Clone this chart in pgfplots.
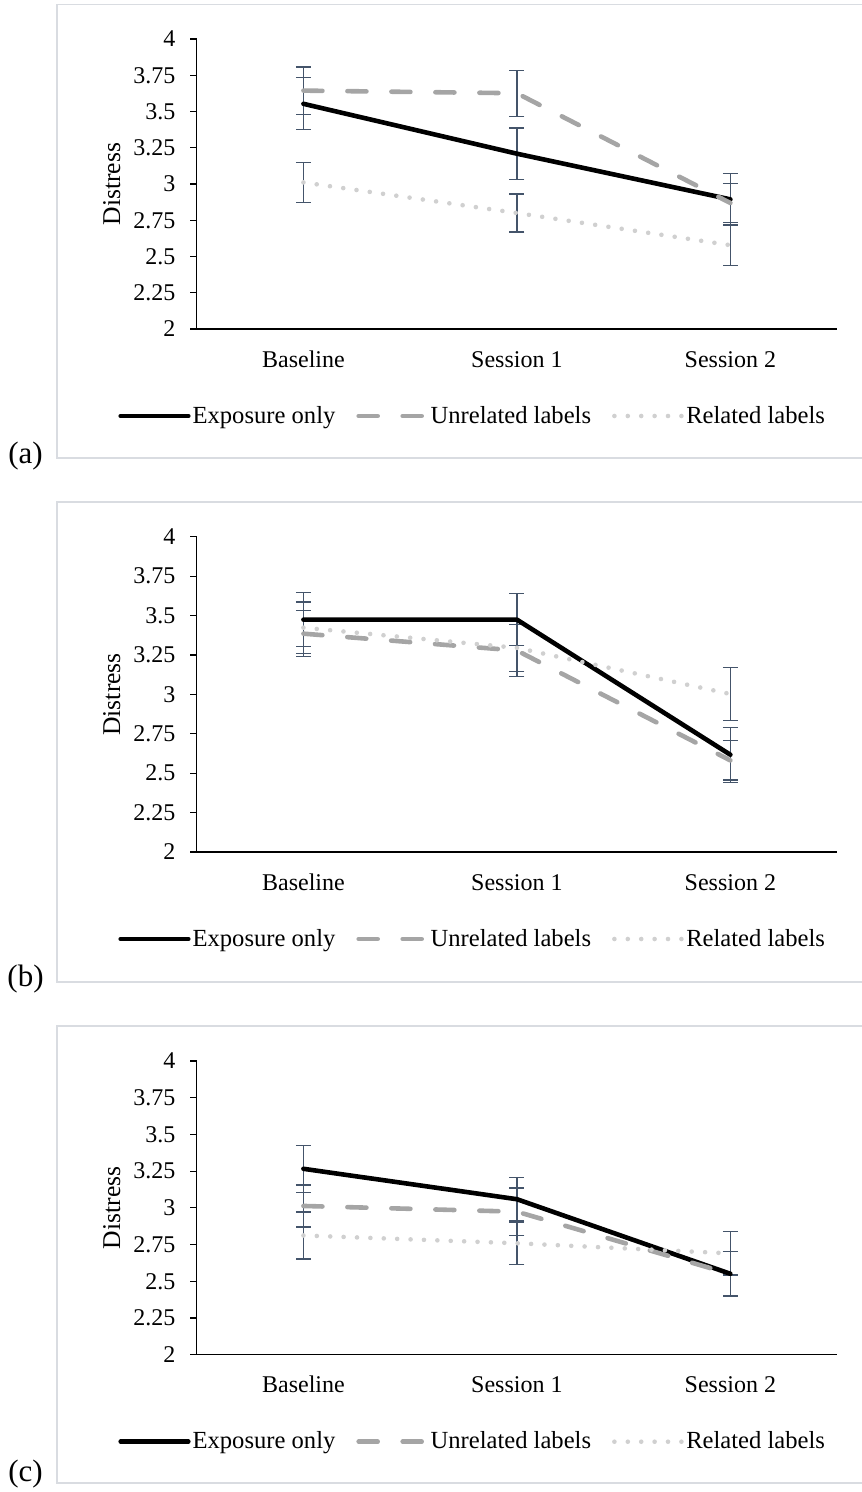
\documentclass[border=0pt]{standalone}
\usepackage{fontspec}
\setmainfont{Liberation Serif}
\usepackage{pgfplots}
\usepackage{pgfplotstable}
\pgfplotsset{compat=1.18}
\definecolor{errc}{HTML}{44546A}
\definecolor{unrc}{HTML}{A5A5A5}
\definecolor{relc}{HTML}{D0D0D0}
\definecolor{boxc}{HTML}{D9DCE1}

\pgfplotstableread{
x expo expoE unrel unrelE rel relE
0 3.553 0.179 3.644 0.163 3.011 0.140
1 3.209 0.177 3.626 0.158 2.800 0.131
2 2.894 0.176 2.869 0.135 2.578 0.138
}\dataA
\pgfplotstableread{
x expo expoE unrel unrelE rel relE
0 3.474 0.170 3.385 0.147 3.423 0.163
1 3.474 0.164 3.278 0.166 3.295 0.150
2 2.617 0.174 2.581 0.124 3.002 0.166
}\dataB
\pgfplotstableread{
x expo expoE unrel unrelE rel relE
0 3.266 0.160 3.013 0.143 2.812 0.160
1 3.059 0.148 2.974 0.161 2.759 0.143
2 2.551 0.151 2.550 0.155 2.690 0.147
}\dataC

\pgfplotsset{
  panel/.style={
    scale only axis, width=320.2pt,
    xmin=-0.5, xmax=2.5, ymin=2, ymax=4,
    axis x line=bottom, axis y line=left,
    axis line style={-, black, line width=0.6pt},
    xtick={0,1,2}, xticklabels={Baseline, Session 1, Session 2},
    major x tick style={draw=none},
    ytick={2,2.25,2.5,2.75,3,3.25,3.5,3.75,4},
    tick align=outside, major tick length=3.3pt,
    major y tick style={black, line width=0.6pt},
    /pgf/number format/assume math mode=true,
    yticklabel style={anchor=east, inner sep=0pt, xshift=-7.2pt},
    xticklabel style={anchor=base, inner sep=0pt, yshift=-15.7pt},
    ylabel={Distress},
    ylabel style={at={(axis description cs:-0.1327,0.5)}, anchor=center, font=\fontsize{12.8}{14}\selectfont},
    legend columns=3,
    legend style={draw=none, fill=none, at={(axis description cs:-0.1229,0)}, anchor=west, yshift=-43.5pt,
      inner sep=0pt, legend cell align=left, font=\fontsize{12.3}{14}\selectfont,
      /tikz/every even column/.append style={column sep=9.5pt},
      nodes={inner sep=1pt}},
    legend image code/.code={\draw[##1] (0pt,0pt) -- (33.8pt,0pt);},
    clip=false,
  },
  ebars/.style={forget plot, draw=none, mark=none,
    error bars/.cd, y dir=both, y explicit,
    error bar style={draw=errc, line width=0.6pt, solid},
    error mark options={draw=errc, rotate=90, line width=0.6pt, mark size=3.75pt, solid}},
  sexpo/.style={black, line width=2.3pt, line cap=round, line join=round},
  sunrel/.style={unrc, line width=2.3pt, line cap=round, line join=round, dash pattern=on 9.5pt off 12.5pt},
  srel/.style={relc, line width=2.3pt, line cap=round, line join=round, dash pattern=on 0pt off 6.7pt},
}

\newcommand{\panelplots}[1]{%
  \addplot[ebars] table[x=x, y=expo, y error=expoE]{#1};
  \addplot[ebars] table[x=x, y=unrel, y error=unrelE]{#1};
  \addplot[ebars] table[x=x, y=rel, y error=relE]{#1};
  \addplot[sexpo] table[x=x, y=expo]{#1};
  \addlegendentry{Exposure only}
  \addplot[sunrel] table[x=x, y=unrel]{#1};
  \addlegendentry{Unrelated labels}
  \addplot[srel] table[x=x, y=rel]{#1};
  \addlegendentry{Related labels}
}

\begin{document}
\begin{tikzpicture}[font=\fontsize{12}{14}\selectfont]
\useasboundingbox (0,0) rectangle (430.5pt,-746pt);
\draw[boxc, line width=0.6pt] (28.5pt,-2.25pt) rectangle (436pt,-229pt);
\draw[boxc, line width=0.6pt] (28.5pt,-251pt) rectangle (436pt,-491pt);
\draw[boxc, line width=0.6pt] (28.5pt,-513pt) rectangle (436pt,-741.5pt);
\node[anchor=base, font=\fontsize{15.5}{18}\selectfont, inner sep=0pt] at (12.75pt,-231.5pt) {(a)};
\node[anchor=base, font=\fontsize{15.5}{18}\selectfont, inner sep=0pt] at (12.75pt,-493pt) {(b)};
\node[anchor=base, font=\fontsize{15.5}{18}\selectfont, inner sep=0pt] at (12.75pt,-740.5pt) {(c)};

\begin{axis}[panel, height=145pt, at={(98.35pt,-164.5pt)}, anchor=south west]
\panelplots{\dataA}
\end{axis}

\begin{axis}[panel, height=157.65pt, at={(98.35pt,-426pt)}, anchor=south west]
\panelplots{\dataB}
\end{axis}

\begin{axis}[panel, height=146.85pt, at={(98.35pt,-677.35pt)}, anchor=south west]
\panelplots{\dataC}
\end{axis}
\end{tikzpicture}
\end{document}
